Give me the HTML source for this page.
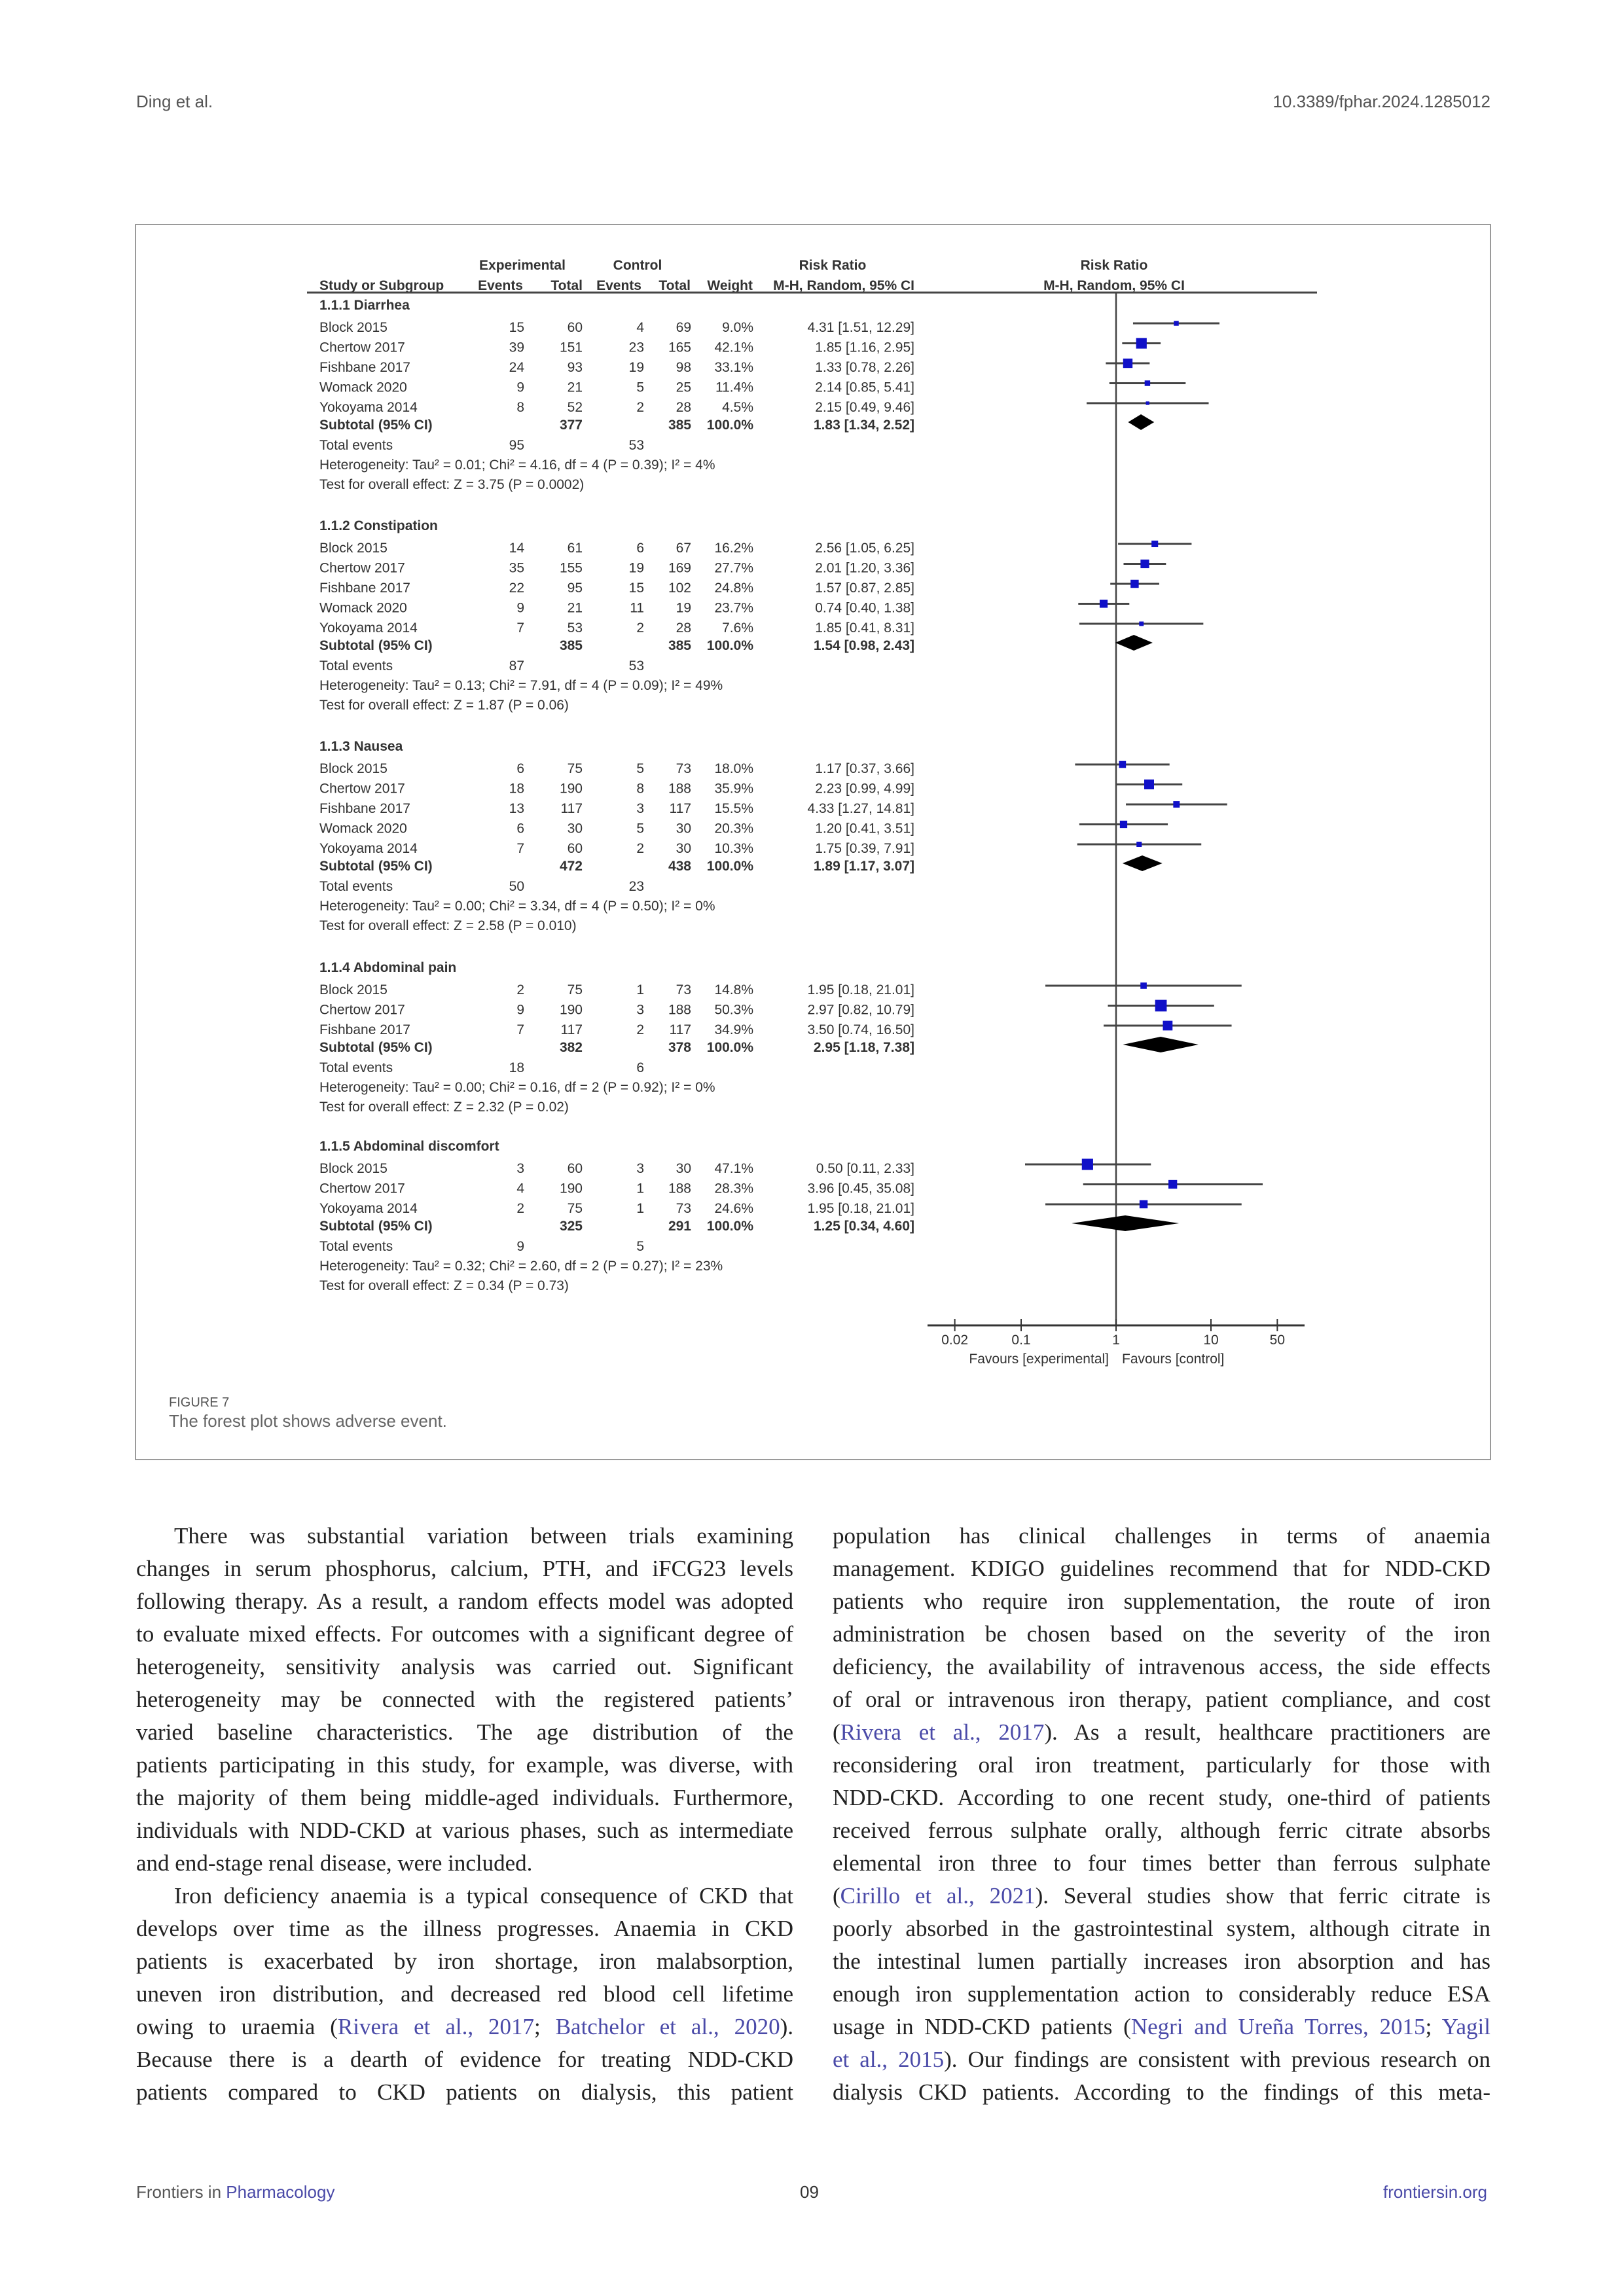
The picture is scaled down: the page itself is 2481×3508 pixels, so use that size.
<!DOCTYPE html>
<html><head><meta charset="utf-8"><style>
html,body{margin:0;padding:0;background:#fff;}
#pg{position:relative;width:2481px;height:3508px;overflow:hidden;background:#fff;}
.hd{position:absolute;font-family:"Liberation Sans",sans-serif;font-size:26px;color:#555;}
.col{position:absolute;font-family:"Liberation Serif",serif;font-size:35px;color:#222;}
.ln{height:50px;line-height:50px;white-space:nowrap;text-align:justify;text-align-last:justify;}
.ln.l{text-align-last:left;}
.ind{text-indent:58px;}
a,.c{color:#4a4aa8;text-decoration:none;}
</style></head><body><div id="pg">
<div class="hd" style="left:208px;top:140px;">Ding et al.</div>
<div class="hd" style="right:204px;top:140px;">10.3389/fphar.2024.1285012</div>

<svg id="fig" width="2481" height="2240" style="position:absolute;left:0;top:0" xmlns="http://www.w3.org/2000/svg" font-family="Liberation Sans, sans-serif"></svg>

<div class="col" style="left:208px;top:2322px;width:1004px;">
<div class="ln ind">There was substantial variation between trials examining</div>
<div class="ln">changes in serum phosphorus, calcium, PTH, and iFCG23 levels</div>
<div class="ln">following therapy. As a result, a random effects model was adopted</div>
<div class="ln">to evaluate mixed effects. For outcomes with a significant degree of</div>
<div class="ln">heterogeneity, sensitivity analysis was carried out. Significant</div>
<div class="ln">heterogeneity may be connected with the registered patients’</div>
<div class="ln">varied baseline characteristics. The age distribution of the</div>
<div class="ln">patients participating in this study, for example, was diverse, with</div>
<div class="ln">the majority of them being middle-aged individuals. Furthermore,</div>
<div class="ln">individuals with NDD-CKD at various phases, such as intermediate</div>
<div class="ln l">and end-stage renal disease, were included.</div>
<div class="ln ind">Iron deficiency anaemia is a typical consequence of CKD that</div>
<div class="ln">develops over time as the illness progresses. Anaemia in CKD</div>
<div class="ln">patients is exacerbated by iron shortage, iron malabsorption,</div>
<div class="ln">uneven iron distribution, and decreased red blood cell lifetime</div>
<div class="ln">owing to uraemia (<span class="c">Rivera et al., 2017</span>; <span class="c">Batchelor et al., 2020</span>).</div>
<div class="ln">Because there is a dearth of evidence for treating NDD-CKD</div>
<div class="ln">patients compared to CKD patients on dialysis, this patient</div>
</div>
<div class="col" style="left:1272px;top:2322px;width:1005px;">
<div class="ln">population has clinical challenges in terms of anaemia</div>
<div class="ln">management. KDIGO guidelines recommend that for NDD-CKD</div>
<div class="ln">patients who require iron supplementation, the route of iron</div>
<div class="ln">administration be chosen based on the severity of the iron</div>
<div class="ln">deficiency, the availability of intravenous access, the side effects</div>
<div class="ln">of oral or intravenous iron therapy, patient compliance, and cost</div>
<div class="ln">(<span class="c">Rivera et al., 2017</span>). As a result, healthcare practitioners are</div>
<div class="ln">reconsidering oral iron treatment, particularly for those with</div>
<div class="ln">NDD-CKD. According to one recent study, one-third of patients</div>
<div class="ln">received ferrous sulphate orally, although ferric citrate absorbs</div>
<div class="ln">elemental iron three to four times better than ferrous sulphate</div>
<div class="ln">(<span class="c">Cirillo et al., 2021</span>). Several studies show that ferric citrate is</div>
<div class="ln">poorly absorbed in the gastrointestinal system, although citrate in</div>
<div class="ln">the intestinal lumen partially increases iron absorption and has</div>
<div class="ln">enough iron supplementation action to considerably reduce ESA</div>
<div class="ln">usage in NDD-CKD patients (<span class="c">Negri and Ureña Torres, 2015</span>; <span class="c">Yagil</span></div>
<div class="ln"><span class="c">et al., 2015</span>). Our findings are consistent with previous research on</div>
<div class="ln">dialysis CKD patients. According to the findings of this meta-</div>
</div>

<div class="hd" style="left:208px;top:3334px;">Frontiers in <span class="c">Pharmacology</span></div>
<div class="hd" style="left:1222px;top:3334px;color:#333;">09</div>
<div class="hd" style="right:209px;top:3334px;" ><span class="c">frontiersin.org</span></div>
</div>
<script>
const svg=document.getElementById('fig');const NS='http://www.w3.org/2000/svg';
function el(t,a,txt){const e=document.createElementNS(NS,t);for(const k in a)e.setAttribute(k,a[k]);if(txt!==undefined)e.textContent=txt;svg.appendChild(e);return e;}
function tx(x,y,s,anchor,bold,size,fill){el('text',{x:x,y:y,'font-size':size||21,'text-anchor':anchor||'start','font-weight':bold?'bold':'normal',fill:fill||'#333'},s);}
el('rect',{x:207,y:343,width:2070,height:1887,fill:'none',stroke:'#9a9a9a','stroke-width':2});
// headers
tx(798,412,'Experimental','middle',true);tx(974,412,'Control','middle',true);tx(1272,412,'Risk Ratio','middle',true);tx(1702,412,'Risk Ratio','middle',true);
tx(488,443,'Study or Subgroup','start',true);tx(799,443,'Events','end',true);tx(890,443,'Total','end',true);tx(980,443,'Events','end',true);tx(1055,443,'Total','end',true);tx(1150,443,'Weight','end',true);tx(1397,443,'M-H, Random, 95% CI','end',true);tx(1702,443,'M-H, Random, 95% CI','middle',true);
el('line',{x1:469,y1:447,x2:2012,y2:447,stroke:'#444','stroke-width':3});
const X=v=>1705+145*Math.log10(v);
el('line',{x1:1705,y1:447,x2:1705,y2:2025,stroke:'#444','stroke-width':2.5});
el('line',{x1:1417,y1:2025,x2:1993,y2:2025,stroke:'#333','stroke-width':3});
[[0.02,'0.02'],[0.1,'0.1'],[1,'1'],[10,'10'],[50,'50']].forEach(([v,l])=>{el('line',{x1:X(v),y1:2015,x2:X(v),y2:2034,stroke:'#333','stroke-width':2});tx(X(v),2054,l,'middle');});
tx(1694,2083,'Favours [experimental]','end');tx(1714,2083,'Favours [control]','start');
const S=[
[473,'1.1.1 Diarrhea',[
['Block 2015',15,60,4,69,'9.0%',4.31,1.51,12.29],['Chertow 2017',39,151,23,165,'42.1%',1.85,1.16,2.95],['Fishbane 2017',24,93,19,98,'33.1%',1.33,0.78,2.26],['Womack 2020',9,21,5,25,'11.4%',2.14,0.85,5.41],['Yokoyama 2014',8,52,2,28,'4.5%',2.15,0.49,9.46]],
[377,385,1.83,1.34,2.52],[95,53],'Heterogeneity: Tau² = 0.01; Chi² = 4.16, df = 4 (P = 0.39); I² = 4%','Test for overall effect: Z = 3.75 (P = 0.0002)'],
[810,'1.1.2 Constipation',[
['Block 2015',14,61,6,67,'16.2%',2.56,1.05,6.25],['Chertow 2017',35,155,19,169,'27.7%',2.01,1.20,3.36],['Fishbane 2017',22,95,15,102,'24.8%',1.57,0.87,2.85],['Womack 2020',9,21,11,19,'23.7%',0.74,0.40,1.38],['Yokoyama 2014',7,53,2,28,'7.6%',1.85,0.41,8.31]],
[385,385,1.54,0.98,2.43],[87,53],'Heterogeneity: Tau² = 0.13; Chi² = 7.91, df = 4 (P = 0.09); I² = 49%','Test for overall effect: Z = 1.87 (P = 0.06)'],
[1147,'1.1.3 Nausea',[
['Block 2015',6,75,5,73,'18.0%',1.17,0.37,3.66],['Chertow 2017',18,190,8,188,'35.9%',2.23,0.99,4.99],['Fishbane 2017',13,117,3,117,'15.5%',4.33,1.27,14.81],['Womack 2020',6,30,5,30,'20.3%',1.20,0.41,3.51],['Yokoyama 2014',7,60,2,30,'10.3%',1.75,0.39,7.91]],
[472,438,1.89,1.17,3.07],[50,23],'Heterogeneity: Tau² = 0.00; Chi² = 3.34, df = 4 (P = 0.50); I² = 0%','Test for overall effect: Z = 2.58 (P = 0.010)'],
[1485,'1.1.4 Abdominal pain',[
['Block 2015',2,75,1,73,'14.8%',1.95,0.18,21.01],['Chertow 2017',9,190,3,188,'50.3%',2.97,0.82,10.79],['Fishbane 2017',7,117,2,117,'34.9%',3.50,0.74,16.50]],
[382,378,2.95,1.18,7.38],[18,6],'Heterogeneity: Tau² = 0.00; Chi² = 0.16, df = 2 (P = 0.92); I² = 0%','Test for overall effect: Z = 2.32 (P = 0.02)'],
[1758,'1.1.5 Abdominal discomfort',[
['Block 2015',3,60,3,30,'47.1%',0.50,0.11,2.33],['Chertow 2017',4,190,1,188,'28.3%',3.96,0.45,35.08],['Yokoyama 2014',2,75,1,73,'24.6%',1.95,0.18,21.01]],
[325,291,1.25,0.34,4.60],[9,5],'Heterogeneity: Tau² = 0.32; Chi² = 2.60, df = 2 (P = 0.27); I² = 23%','Test for overall effect: Z = 0.34 (P = 0.73)']];
const f2=v=>v.toFixed(2);
S.forEach(([h,name,rows,sub,te,het,test])=>{
 tx(488,h,name,'start',true);
 let y=h+34;
 rows.forEach((r,i)=>{y=h+34+30.5*i;
  tx(488,y,r[0]);tx(801,y,r[1],'end');tx(890,y,r[2],'end');tx(984,y,r[3],'end');tx(1056,y,r[4],'end');tx(1151,y,r[5],'end');
  tx(1397,y,f2(r[6])+' ['+f2(r[7])+', '+f2(r[8])+']','end');
  const cy=y-13;el('line',{x1:X(r[7]),y1:cy,x2:X(r[8]),y2:cy,stroke:'#444','stroke-width':3});
  const s=2.5*Math.sqrt(parseFloat(r[5]));el('rect',{x:X(r[6])-s/2,y:cy-s/2,width:s,height:s,fill:'#1010c8'});
 });
 const ys=y+27;tx(488,ys,'Subtotal (95% CI)','start',true);tx(890,ys,sub[0],'end',true);tx(1056,ys,sub[1],'end',true);tx(1151,ys,'100.0%','end',true);
 tx(1397,ys,f2(sub[2])+' ['+f2(sub[3])+', '+f2(sub[4])+']','end',true);
 const dy=ys-11;el('polygon',{points:`${X(sub[3])},${dy} ${X(sub[2])},${dy-12} ${X(sub[4])},${dy} ${X(sub[2])},${dy+12}`,fill:'#000'});
 tx(488,ys+31,'Total events');tx(801,ys+31,te[0],'end');tx(984,ys+31,te[1],'end');
 tx(488,ys+61,het);tx(488,ys+91,test);
});
tx(258,2149,'FIGURE 7','start',false,20,'#555');
tx(258,2180,'The forest plot shows adverse event.','start',false,26,'#666');
</script>
</body></html>
